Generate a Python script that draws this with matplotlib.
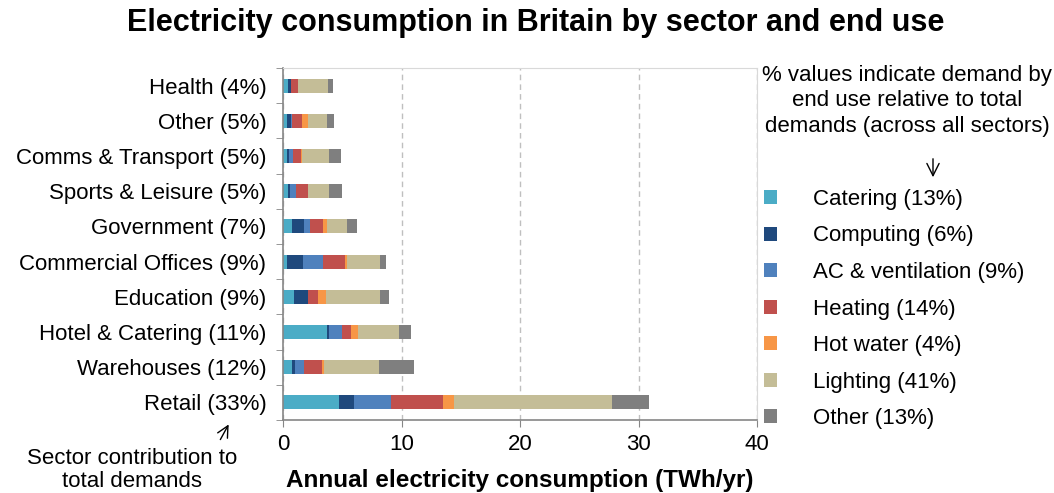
import matplotlib
matplotlib.use("Agg")
import matplotlib.pyplot as plt
import numpy as np

plt.rcParams['font.family'] = ['Liberation Sans', 'DejaVu Sans']

# Sectores (de abajo hacia arriba)
sectores = ["Retail (33%)", "Warehouses (12%)", "Hotel & Catering (11%)", "Education (9%)",
            "Commercial Offices (9%)", "Government (7%)", "Sports & Leisure (5%)",
            "Comms & Transport (5%)", "Other (5%)", "Health (4%)"]

# Consumo por uso final (TWh/yr), mismo orden que sectores
catering  = [4.7, 0.75, 3.7, 0.95, 0.3, 0.75, 0.4, 0.3, 0.3, 0.4]
computing = [1.3, 0.3, 0.15, 1.15, 1.35, 1.05, 0.2, 0.2, 0.4, 0.3]
ac_vent   = [3.1, 0.75, 1.15, 0.05, 1.75, 0.5, 0.5, 0.35, 0.05, 0.0]
heating   = [4.4, 1.5, 0.75, 0.8, 1.85, 1.1, 1.0, 0.7, 0.85, 0.55]
hot_water = [0.95, 0.15, 0.55, 0.7, 0.15, 0.3, 0.05, 0.05, 0.5, 0.0]
lighting  = [13.35, 4.65, 3.5, 4.5, 2.8, 1.7, 1.7, 2.25, 1.6, 2.55]
otros     = [3.1, 2.95, 1.0, 0.8, 0.5, 0.85, 1.15, 1.05, 0.6, 0.4]

usos = ["Catering (13%)", "Computing (6%)", "AC & ventilation (9%)", "Heating (14%)",
        "Hot water (4%)", "Lighting (41%)", "Other (13%)"]
series = [catering, computing, ac_vent, heating, hot_water, lighting, otros]
colores = ["#4BACC6", "#1F497D", "#4F81BD", "#C0504D", "#F79646", "#C4BD97", "#7F7F7F"]

fig = plt.figure(figsize=(10.54, 4.93), dpi=100)
ax = fig.add_axes([283/1054, 1-420/493, (757-283)/1054, (420-68)/493])

posiciones = np.arange(len(sectores))
izquierda = np.zeros(len(sectores))
for valores, etiqueta, color in zip(series, usos, colores):
    ax.barh(posiciones, valores, left=izquierda, height=0.4, color=color, label=etiqueta)
    izquierda += np.array(valores)

# Ejes
ax.set_xlim(0, 40)
ax.set_ylim(-0.5, len(sectores) - 0.5)
ax.set_xticks([0, 10, 20, 30, 40])
ax.set_yticks(posiciones)
ax.set_yticklabels(sectores)
ax.set_yticks(np.arange(-0.5, len(sectores)), minor=True)
ax.tick_params(axis="y", which="major", length=0, labelsize=16, pad=12)
ax.tick_params(axis="y", which="minor", length=5, color="#868686")
ax.tick_params(axis="x", length=5, color="#868686", labelsize=16, pad=5)
ax.xaxis.grid(True, linestyle=(0, (4, 3)), color="#BFBFBF", linewidth=1)
ax.set_axisbelow(True)
for lado in ["top", "right"]:
    ax.spines[lado].set_color("#D9D9D9")
for lado in ["left", "bottom"]:
    ax.spines[lado].set_color("#868686")
    ax.spines[lado].set_linewidth(1.2)

ax.set_xlabel("Annual electricity consumption (TWh/yr)", fontsize=17.5, fontweight="bold", labelpad=10)

# Titulo
fig.text(536/1054, 1-23/493, "Electricity consumption in Britain by sector and end use",
         ha="center", va="center", fontsize=22, fontweight="bold")

# Leyenda
ax.legend(loc="center left", bbox_to_anchor=(1.0, (420-309)/352), frameon=False, fontsize=16,
          handlelength=0.6, handleheight=0.6, handletextpad=1.6, labelspacing=0.7,
          borderaxespad=0.0, borderpad=0.3)

# Notas
fig.text(907/1054, 1-101/493, "% values indicate demand by\nend use relative to total\ndemands (across all sectors)",
         ha="center", va="center", fontsize=16, linespacing=1.27)
fig.add_artist(matplotlib.patches.FancyArrowPatch((933/1054, 1-156/493), (933/1054, 1-180/493),
               transform=fig.transFigure, arrowstyle="->", mutation_scale=22, linewidth=1, color="black"))
fig.text(132/1054, 1-470/493, "Sector contribution to\ntotal demands", ha="center", va="center",
         fontsize=16, linespacing=1.12)
fig.add_artist(matplotlib.patches.FancyArrowPatch((219/1054, 1-442/493), (230/1054, 1-422/493),
               transform=fig.transFigure, arrowstyle="->", mutation_scale=20, linewidth=1, color="black"))

fig.savefig("out.png", dpi=100)
